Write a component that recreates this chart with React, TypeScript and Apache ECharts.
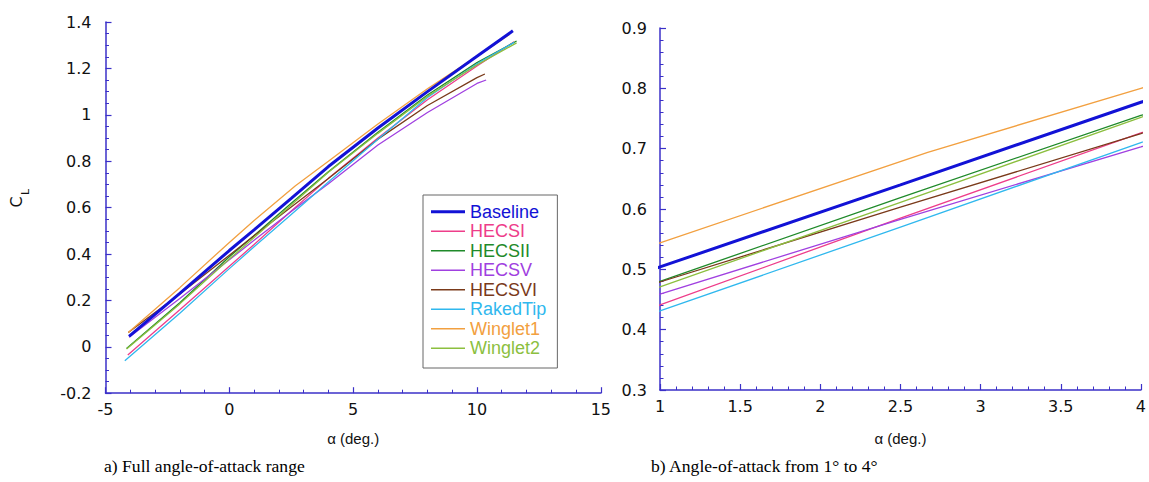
import React, { useEffect, useRef } from "react";
import * as echarts from "echarts";

// ---- data (angle of attack, lift coefficient) ----
const SERIES_NAMES = ["Baseline", "HECSI", "HECSII", "HECSV", "HECSVI", "RakedTip", "Winglet1", "Winglet2"];
const SERIES_COLORS = ["#1212d6", "#ee3d8a", "#1f8a2a", "#a040e0", "#7a3a1a", "#30b8ee", "#f2a040", "#8cbf3f"];

const baselineAlpha = [-4.05, -2, 0, 1, 2.5, 4, 6, 8, 10, 11.45];
const baselineCL = [0.045, 0.23, 0.415, 0.504, 0.64, 0.777, 0.943, 1.1, 1.252, 1.362];
const hecsiAlpha = [-4.1, -2, 0, 1, 2.5, 4, 6, 8, 10, 11.5];
const hecsiCL = [-0.035, 0.16, 0.347, 0.441, 0.585, 0.726, 0.9, 1.065, 1.21, 1.315];
const hecsiiAlpha = [-4.15, -2, 0, 1, 2.5, 4, 6, 8, 10, 11.6];
const hecsiiCL = [-0.007, 0.19, 0.388, 0.48, 0.619, 0.755, 0.925, 1.085, 1.225, 1.318];
const hecsvAlpha = [-4.05, -2, 0, 1, 2.5, 4, 6, 8, 10, 10.37];
const hecsvCL = [0.041, 0.208, 0.375, 0.459, 0.583, 0.703, 0.87, 1.01, 1.135, 1.15];
const hecsviAlpha = [-4.08, -2, 0, 1, 2.5, 4, 6, 8, 10, 10.32];
const hecsviCL = [0.062, 0.228, 0.395, 0.479, 0.603, 0.725, 0.895, 1.04, 1.16, 1.176];
const rakedAlpha = [-4.22, -2, 0, 1, 2.5, 4, 6, 8, 10, 11.5];
const rakedCL = [-0.06, 0.145, 0.337, 0.431, 0.57, 0.71, 0.895, 1.075, 1.22, 1.312];
const winglet1Alpha = [-4.08, -2, 0, 1, 2.67, 4, 6, 8, 10, 11.3];
const winglet1CL = [0.062, 0.255, 0.45, 0.544, 0.694, 0.8, 0.96, 1.112, 1.252, 1.345];
const winglet2Alpha = [-4.15, -2, 0, 1, 2.5, 4, 6, 8, 10, 11.6];
const winglet2CL = [-0.01, 0.185, 0.378, 0.471, 0.611, 0.752, 0.92, 1.08, 1.215, 1.31];

const ALPHAS = [baselineAlpha, hecsiAlpha, hecsiiAlpha, hecsvAlpha, hecsviAlpha, rakedAlpha, winglet1Alpha, winglet2Alpha];
const CLS = [baselineCL, hecsiCL, hecsiiCL, hecsvCL, hecsviCL, rakedCL, winglet1CL, winglet2CL];

const CAPTION_A = "a) Full angle-of-attack range";
const CAPTION_B = "b) Angle-of-attack from 1° to 4°";
const X_NAME = "α (deg.)";

const AX = "#3b30c8";
const TICK_FONT = "DejaVu Sans";
const THIN_ICON = "path://M0,0 M34,3 M0,0.85 L34,0.85 L34,2.15 L0,2.15 Z";
const THICK_ICON = "path://M0,0 L34,0 L34,3 L0,3 Z";

function fmt(v: number) {
  return String(+v.toFixed(2));
}

function axisCommon(extra: any) {
  return {
    type: "value",
    axisLine: { onZero: false, lineStyle: { color: AX, width: 1.5 } },
    axisTick: { inside: true, length: 6, lineStyle: { color: AX, width: 1.2 } },
    splitLine: { show: false },
    ...extra,
  };
}

export default function App() {
  const ref = useRef<HTMLDivElement>(null);
  useEffect(() => {
    document.body.style.margin = "0";
    const chart = echarts.init(ref.current!, null, { renderer: "svg" });
    const series: any[] = [];
    [0, 1].forEach((g) => {
      SERIES_NAMES.forEach((name, i) => {
        series.push({
          name,
          type: "line",
          xAxisIndex: g,
          yAxisIndex: g,
          symbol: "none",
          clip: true,
          z: name === "Baseline" ? 3 : 2,
          lineStyle: { color: SERIES_COLORS[i], width: name === "Baseline" ? 3 : 1.3 },
          itemStyle: { color: SERIES_COLORS[i] },
          data: ALPHAS[i].map((a, k) => [a, CLS[i][k]]),
        });
      });
    });
    const minor = (n: number) => ({ show: true, splitNumber: n, length: 3.5, lineStyle: { color: AX, width: 1 } });
    const lab = (m: number) => ({ color: "#111", fontFamily: TICK_FONT, fontSize: 16, margin: m, formatter: fmt });
    const nameStyle = { fontFamily: "Liberation Sans", fontSize: 15, color: "#111" };
    chart.setOption({
      animation: false,
      backgroundColor: "#fff",
      grid: [
        { left: 105.5, top: 22, width: 495.3, height: 371.2 },
        { left: 660, top: 28, width: 482.5, height: 362 },
      ],
      xAxis: [
        axisCommon({
          gridIndex: 0, min: -5, max: 15, interval: 5,
          minorTick: minor(5), axisLabel: lab(8),
          name: X_NAME, nameLocation: "middle", nameGap: 38, nameTextStyle: nameStyle,
        }),
        axisCommon({
          gridIndex: 1, min: 1, max: 4, interval: 0.5,
          minorTick: minor(5), axisLabel: lab(8),
          name: X_NAME, nameLocation: "middle", nameGap: 41, nameTextStyle: nameStyle,
        }),
      ],
      yAxis: [
        axisCommon({
          gridIndex: 0, min: -0.2, max: 1.4, interval: 0.2,
          minorTick: minor(4), axisLabel: lab(14),
        }),
        axisCommon({
          gridIndex: 1, min: 0.3, max: 0.9, interval: 0.1,
          minorTick: minor(5), axisLabel: lab(13),
        }),
      ],
      legend: {
        orient: "vertical",
        left: 423,
        top: 195,
        padding: [7, 11, 10, 8],
        borderColor: "#666",
        borderWidth: 1,
        backgroundColor: "#fff",
        itemWidth: 34,
        itemHeight: 3,
        itemGap: 0,
        textStyle: { fontFamily: "Liberation Sans", fontSize: 18, lineHeight: 19.5 },
        data: SERIES_NAMES.map((n, i) => ({
          name: n,
          icon: n === "Baseline" ? THICK_ICON : THIN_ICON,
          textStyle: { color: SERIES_COLORS[i] },
        })),
      },
      graphic: [
        {
          type: "text", x: 16, y: 202, rotation: Math.PI / 2,
          style: { text: "C", font: "16px 'DejaVu Sans'", fill: "#111", align: "center", verticalAlign: "middle" },
        },
        {
          type: "text", x: 25, y: 192, rotation: Math.PI / 2,
          style: { text: "L", font: "11px 'DejaVu Sans'", fill: "#111", align: "center", verticalAlign: "middle" },
        },
        {
          type: "text", x: 104, y: 466,
          style: { text: CAPTION_A, font: "17.6px 'Liberation Serif'", fill: "#000", align: "left", verticalAlign: "middle" },
        },
        {
          type: "text", x: 651, y: 466,
          style: { text: CAPTION_B, font: "17.6px 'Liberation Serif'", fill: "#000", align: "left", verticalAlign: "middle" },
        },
      ],
      series,
    });
    return () => chart.dispose();
  }, []);
  return <div ref={ref} style={{ width: 1149, height: 482 }} />;
}
